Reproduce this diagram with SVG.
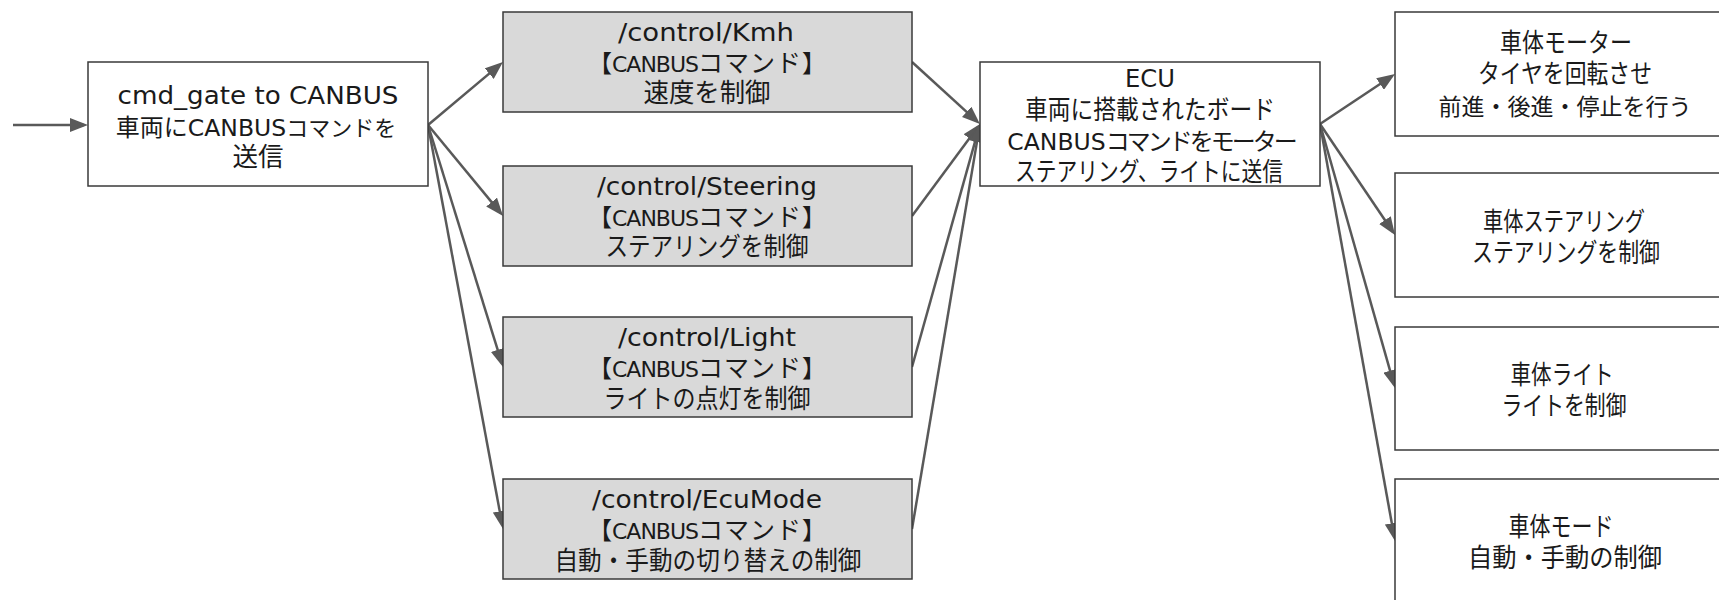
<svg xmlns="http://www.w3.org/2000/svg" width="1719" height="600" viewBox="0 0 1719 600">
<style>
.bw{fill:#ffffff;stroke:#3a3a3a;stroke-width:1.5}
.bg{fill:#d9d9d9;stroke:#3a3a3a;stroke-width:1.5}
text{font-family:"DejaVu Sans","Noto Sans CJK JP",sans-serif;fill:#1a1a1a;text-anchor:middle}
.lt{font-size:25px}
.jp{font-size:26px}
.jr{font-size:26px}
.cm{font-size:24px}
.cb{font-size:22px;letter-spacing:-1px}
.ck{font-size:25px;letter-spacing:1px}
.c line{stroke:#595959;stroke-width:2.5;marker-end:url(#ah)}
</style>
<defs>
<marker id="ah" markerUnits="userSpaceOnUse" markerWidth="18" markerHeight="14" refX="14" refY="7" orient="auto">
<path d="M0,0 L18,7 L0,14 z" fill="#595959"/>
</marker>
</defs>
<g id="connectors" class="c">
<line x1="13" y1="125" x2="84" y2="125"/>
<line x1="428" y1="125" x2="499.9" y2="64.6"/>
<line x1="428" y1="125" x2="500.5" y2="212.9"/>
<line x1="428" y1="125" x2="501.8" y2="363.2"/>
<line x1="428" y1="125" x2="502.3" y2="525.1"/>
<line x1="912" y1="62" x2="977.0" y2="121.3"/>
<line x1="912" y1="216" x2="977.6" y2="127.2"/>
<line x1="912" y1="367" x2="978.9" y2="127.9"/>
<line x1="912" y1="529" x2="979.3" y2="127.9"/>
<line x1="1320" y1="124" x2="1391.7" y2="76.2"/>
<line x1="1320" y1="124" x2="1392.8" y2="231.7"/>
<line x1="1320" y1="124" x2="1393.9" y2="384.2"/>
<line x1="1320" y1="124" x2="1394.3" y2="537.1"/>
</g>
<g id="gate">
<rect class="bw" x="88" y="62" width="340" height="124"/>
<text class="lt" x="258" y="104" textLength="281" lengthAdjust="spacingAndGlyphs">cmd_gate to CANBUS</text>
<text x="256" y="136" style="font-size:24px">車両に<tspan style="font-size:23.5px">CANBUS</tspan><tspan style="font-size:22px">コマンドを</tspan></text>
<text class="jp" x="258" y="166" textLength="51" lengthAdjust="spacingAndGlyphs">送信</text>
</g>
<g id="kmh">
<rect class="bg" x="503" y="12" width="409" height="100"/>
<text class="lt" x="706" y="41" textLength="176" lengthAdjust="spacingAndGlyphs">/control/Kmh</text>
<text class="cm" x="707" y="72">【<tspan class="cb">CANBUS</tspan><tspan class="ck">コマンド</tspan>】</text>
<text class="jp" x="707" y="102" textLength="127" lengthAdjust="spacingAndGlyphs">速度を制御</text>
</g>
<g id="steering">
<rect class="bg" x="503" y="166" width="409" height="100"/>
<text class="lt" x="707" y="195" textLength="220" lengthAdjust="spacingAndGlyphs">/control/Steering</text>
<text class="cm" x="707" y="226">【<tspan class="cb">CANBUS</tspan><tspan class="ck">コマンド</tspan>】</text>
<text class="jp" x="707" y="256" textLength="203" lengthAdjust="spacingAndGlyphs">ステアリングを制御</text>
</g>
<g id="light">
<rect class="bg" x="503" y="317" width="409" height="100"/>
<text class="lt" x="707" y="346" textLength="178" lengthAdjust="spacingAndGlyphs">/control/Light</text>
<text class="cm" x="707" y="377">【<tspan class="cb">CANBUS</tspan><tspan class="ck">コマンド</tspan>】</text>
<text class="jp" x="707" y="408" textLength="207" lengthAdjust="spacingAndGlyphs">ライトの点灯を制御</text>
</g>
<g id="ecumode">
<rect class="bg" x="503" y="479" width="409" height="100"/>
<text class="lt" x="707" y="508" textLength="230" lengthAdjust="spacingAndGlyphs">/control/EcuMode</text>
<text class="cm" x="707" y="539">【<tspan class="cb">CANBUS</tspan><tspan class="ck">コマンド</tspan>】</text>
<text class="jp" x="708" y="570" textLength="307" lengthAdjust="spacingAndGlyphs">自動・手動の切り替えの制御</text>
</g>
<g id="ecu">
<rect class="bw" x="980" y="62" width="340" height="124"/>
<text class="lt" x="1150" y="87" textLength="50" lengthAdjust="spacingAndGlyphs">ECU</text>
<text class="jr" x="1150" y="119" textLength="250" lengthAdjust="spacingAndGlyphs">車両に搭載されたボード</text>
<text x="1151" y="150" style="font-size:24px"><tspan style="font-size:23.5px">CANBUS</tspan><tspan style="letter-spacing:-3px">コマンドをモーター</tspan></text>
<text class="jr" x="1149" y="181" textLength="268" lengthAdjust="spacingAndGlyphs">ステアリング、ライトに送信</text>
</g>
<g id="motor">
<rect class="bw" x="1395" y="12" width="340" height="124"/>
<text class="jr" x="1566" y="52" textLength="132" lengthAdjust="spacingAndGlyphs">車体モーター</text>
<text class="jr" x="1565" y="83" textLength="174" lengthAdjust="spacingAndGlyphs">タイヤを回転させ</text>
<text x="1565" y="115" style="font-size:23px">前進・後進・停止を行う</text>
</g>
<g id="body-steering">
<rect class="bw" x="1395" y="173" width="340" height="124"/>
<text class="jr" x="1564" y="231" textLength="162" lengthAdjust="spacingAndGlyphs">車体ステアリング</text>
<text class="jr" x="1566" y="262" textLength="188" lengthAdjust="spacingAndGlyphs">ステアリングを制御</text>
</g>
<g id="body-light">
<rect class="bw" x="1395" y="327" width="340" height="123"/>
<text class="jr" x="1562" y="384" textLength="103" lengthAdjust="spacingAndGlyphs">車体ライト</text>
<text class="jr" x="1564" y="415" textLength="125" lengthAdjust="spacingAndGlyphs">ライトを制御</text>
</g>
<g id="body-mode">
<rect class="bw" x="1395" y="479" width="340" height="124"/>
<text class="jr" x="1561" y="536" textLength="105" lengthAdjust="spacingAndGlyphs">車体モード</text>
<text class="jr" x="1565" y="567" textLength="194" lengthAdjust="spacingAndGlyphs">自動・手動の制御</text>
</g>
</svg>
